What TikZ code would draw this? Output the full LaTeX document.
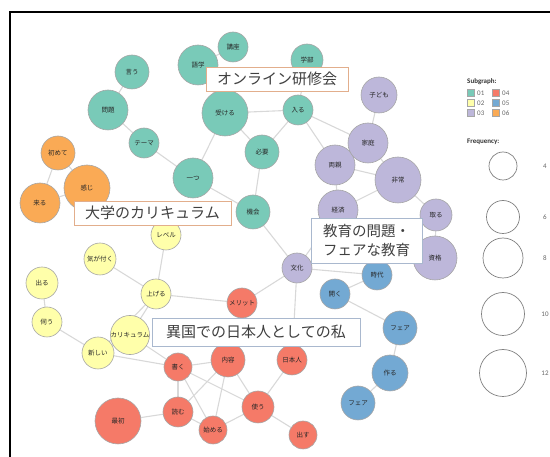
\documentclass[tikz,border=0pt]{standalone}
\usepackage{fontspec}
\setmainfont{Carlito}
\newfontfamily\cjk{Noto Sans CJK JP}
\usetikzlibrary{backgrounds}

\definecolor{cA}{HTML}{79CAB8}
\definecolor{cB}{HTML}{FFFFAA}
\definecolor{cC}{HTML}{BDB7DA}
\definecolor{cD}{HTML}{F57A68}
\definecolor{cE}{HTML}{73A9D3}
\definecolor{cF}{HTML}{FAAA55}
\definecolor{edgegray}{HTML}{D8D8D8}
\definecolor{nodeline}{HTML}{A6A6A6}
\definecolor{boxorange}{HTML}{E2AE8C}
\definecolor{boxblue}{HTML}{A9B8CE}

\tikzset{
  kw/.style={circle, draw=nodeline, line width=0.6pt, inner sep=0pt,
    font=\cjk\fontsize{6.5}{7}\selectfont, text=black!85},
  link/.style={draw=edgegray, line width=1.1pt},
  tagbox/.style={draw=#1, line width=0.9pt, fill=white, inner sep=0pt,
    font=\cjk\fontsize{15}{20}\selectfont, text=black!75},
  swatch/.style={draw=black!35, line width=0.4pt, minimum size=7pt, inner sep=0pt},
  legtext/.style={font=\fontsize{7}{8}\selectfont, text=black!60, anchor=west, inner sep=0pt},
  leghead/.style={font=\bfseries\fontsize{7}{8}\selectfont, text=black!80, anchor=west, inner sep=0pt},
  freq/.style={circle, draw=black!50, line width=0.7pt, inner sep=0pt},
}

\begin{document}
\begin{tikzpicture}[x=1pt, y=-1pt]
\useasboundingbox (0,0) rectangle (550,457);
\draw[line width=1.3pt] (10,458) -- (10,12) -- (551,12);

% subgraph 01
\node[kw, fill=cA, minimum size=30pt] (kouza) at (233,47) {講座};
\node[kw, fill=cA, minimum size=40pt] (gogaku) at (198,65) {語学};
\node[kw, fill=cA, minimum size=32pt] (gakubu) at (307,60) {学部};
\node[kw, fill=cA, minimum size=34pt] (iu) at (132,72) {言う};
\node[kw, fill=cA, minimum size=40pt] (mondai) at (108,110) {問題};
\node[kw, fill=cA, minimum size=46pt] (ukeru) at (225,113) {受ける};
\node[kw, fill=cA, minimum size=30pt] (hairu) at (298,110) {入る};
\node[kw, fill=cA, minimum size=30pt] (tema) at (144,143) {テーマ};
\node[kw, fill=cA, minimum size=34pt] (hitsuyou) at (262,152) {必要};
\node[kw, fill=cA, minimum size=40pt] (hitotsu) at (193,178) {一つ};
\node[kw, fill=cA, minimum size=34pt] (kikai) at (253,212) {機会};

% subgraph 06
\node[kw, fill=cF, minimum size=34pt] (hajimete) at (58,153) {初めて};
\node[kw, fill=cF, minimum size=46pt] (kanji) at (87,188) {感じ};
\node[kw, fill=cF, minimum size=40pt] (kuru) at (40,203) {来る};

% subgraph 03
\node[kw, fill=cC, minimum size=36pt] (kodomo) at (379,95) {子ども};
\node[kw, fill=cC, minimum size=40pt] (ryoushin) at (335,165) {両親};
\node[kw, fill=cC, minimum size=40pt] (katei) at (368,143) {家庭};
\node[kw, fill=cC, minimum size=46pt] (hijou) at (398,180) {非常};
\node[kw, fill=cC, minimum size=40pt] (keizai) at (338,210) {経済};
\node[kw, fill=cC, minimum size=32pt] (toru) at (436,215) {取る};
\node[kw, fill=cC, minimum size=44pt] (shikaku) at (435,258) {資格};
\node[kw, fill=cC, minimum size=30pt] (bunka) at (297,268) {文化};

% subgraph 05
\node[kw, fill=cE, minimum size=30pt] (jidai) at (377,275) {時代};
\node[kw, fill=cE, minimum size=30pt] (hiraku) at (335,294) {開く};
\node[kw, fill=cE, minimum size=34pt] (fairA) at (400,328) {フェア};
\node[kw, fill=cE, minimum size=36pt] (tsukuru) at (390,373) {作る};
\node[kw, fill=cE, minimum size=34pt] (fairB) at (358,403) {フェア};

% subgraph 02
\node[kw, fill=cB, minimum size=30pt] (level) at (166,235) {レベル};
\node[kw, fill=cB, minimum size=32pt] (kigatsuku) at (100,259) {気が付く};
\node[kw, fill=cB, minimum size=32pt] (deru) at (42,283) {出る};
\node[kw, fill=cB, minimum size=30pt] (ageru) at (156,294) {上げる};
\node[kw, fill=cB, minimum size=30pt] (ukagau) at (47,322) {伺う};
\node[kw, fill=cB, minimum size=38pt] (curriculum) at (130,335) {カリキュラム};
\node[kw, fill=cB, minimum size=32pt] (atarashii) at (98,353) {新しい};

% subgraph 04
\node[kw, fill=cD, minimum size=30pt] (merit) at (242,303) {メリット};
\node[kw, fill=cD, minimum size=28pt] (kaku) at (178,367) {書く};
\node[kw, fill=cD, minimum size=34pt] (naiyou) at (228,360) {内容};
\node[kw, fill=cD, minimum size=30pt] (nihonjin) at (292,360) {日本人};
\node[kw, fill=cD, minimum size=30pt] (yomu) at (178,412) {読む};
\node[kw, fill=cD, minimum size=32pt] (tsukau) at (258,407) {使う};
\node[kw, fill=cD, minimum size=46pt] (saisho) at (118,421) {最初};
\node[kw, fill=cD, minimum size=28pt] (hajimeru) at (213,430) {始める};
\node[kw, fill=cD, minimum size=28pt] (dasu) at (303,435) {出す};

% co-occurrence links, kept behind the circles
\begin{scope}[on background layer]
\foreach \a/\b in {kouza/gogaku, gogaku/ukeru, gakubu/hairu, iu/mondai,
  mondai/tema, tema/hitotsu, ukeru/hitotsu, ukeru/hairu, ukeru/hitsuyou,
  hairu/hitsuyou, hitsuyou/kikai, hitotsu/kikai, hairu/katei, hairu/ryoushin,
  hajimete/kuru, hajimete/kanji, kanji/kuru,
  kodomo/katei, katei/ryoushin, katei/hijou, ryoushin/hijou, ryoushin/keizai,
  keizai/hijou, hijou/toru, toru/shikaku, keizai/bunka, kikai/bunka,
  bunka/jidai, bunka/merit, bunka/nihonjin,
  jidai/hiraku, hiraku/fairA, fairA/tsukuru, tsukuru/fairB,
  level/ageru, kigatsuku/ageru, deru/ukagau, ukagau/atarashii,
  atarashii/curriculum, curriculum/ageru, atarashii/ageru, ageru/merit,
  atarashii/kaku, curriculum/kaku,
  kaku/naiyou, kaku/yomu, kaku/hajimeru, kaku/tsukau, naiyou/yomu,
  naiyou/hajimeru, naiyou/tsukau, yomu/saisho, yomu/hajimeru,
  hajimeru/tsukau, tsukau/nihonjin, tsukau/dasu}
  \draw[link] (\a.center) -- (\b.center);
\end{scope}

% topic labels
\node[tagbox=boxorange, minimum width=142pt, minimum height=24pt] (tagA) at (277,79) {オンライン研修会};
\node[tagbox=boxorange, minimum width=157pt, minimum height=24pt] (tagB) at (152.5,213) {大学のカリキュラム};
\node[tagbox=boxblue, minimum width=111pt, minimum height=45pt, align=left, font=\cjk\fontsize{14.5}{19}\selectfont] (tagC) at (366.5,240.5) {教育の問題・\\フェアな教育};
\node[tagbox=boxblue, minimum width=208pt, minimum height=28pt] (tagD) at (256,332) {異国での日本人としての私};

% legend
\node[leghead] (subhead) at (467,82) {Subgraph:};
\node[swatch, fill=cA] (sw1) at (471,93) {};
\node[swatch, fill=cB] (sw2) at (471,103) {};
\node[swatch, fill=cC] (sw3) at (471,113) {};
\node[swatch, fill=cD] (sw4) at (496,93) {};
\node[swatch, fill=cE] (sw5) at (496,103) {};
\node[swatch, fill=cF] (sw6) at (496,113) {};
\node[legtext] (t1) at (477,93) {01};
\node[legtext] (t2) at (477,103) {02};
\node[legtext] (t3) at (477,113) {03};
\node[legtext] (t4) at (502,93) {04};
\node[legtext] (t5) at (502,103) {05};
\node[legtext] (t6) at (502,113) {06};

\node[leghead] (freqhead) at (467,142) {Frequency:};
\node[freq, minimum size=28pt] (f4) at (503,166) {};
\node[freq, minimum size=33pt] (f6) at (503,217) {};
\node[freq, minimum size=40pt] (f8) at (503,258) {};
\node[freq, minimum size=43pt] (f10) at (503,314) {};
\node[freq, minimum size=47pt] (f12) at (503,373) {};
\node[legtext, anchor=center] (n4) at (545,166) {4};
\node[legtext, anchor=center] (n6) at (545,217) {6};
\node[legtext, anchor=center] (n8) at (545,258) {8};
\node[legtext, anchor=center] (n10) at (545,314) {10};
\node[legtext, anchor=center] (n12) at (545,373) {12};
\end{tikzpicture}
\end{document}
